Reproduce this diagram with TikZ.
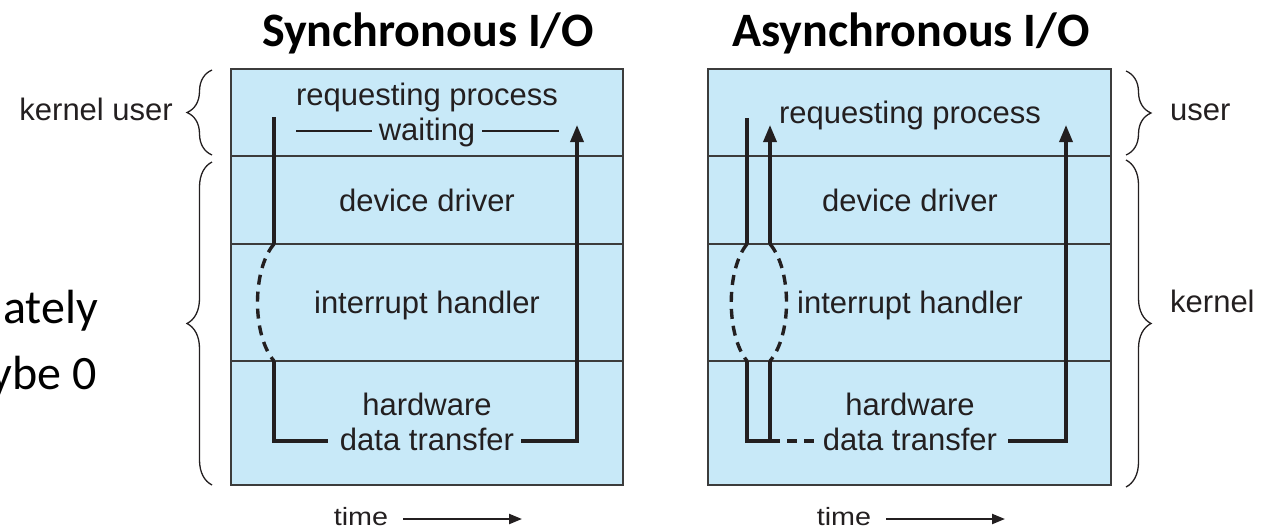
\documentclass[tikz,border=0pt]{standalone}
\usepackage{fontspec}
\setmainfont{Liberation Sans}
\newfontfamily\carlito{Carlito}
\usetikzlibrary{arrows.meta,decorations.pathreplacing}
\definecolor{layerfill}{RGB}{200,233,248}
\definecolor{ink}{RGB}{35,31,32}
\definecolor{framecol}{RGB}{60,60,60}

\begin{document}
\begin{tikzpicture}[x=1pt,y=-1pt,
  lbl/.style={inner sep=0pt,anchor=base,text=ink,font=\fontsize{31}{36}\selectfont},
  sidelbl/.style={lbl,anchor=base east},
  sidelblr/.style={lbl,anchor=base west},
  title/.style={inner sep=0pt,anchor=base,text=black,font=\carlito\bfseries\fontsize{48}{54}\selectfont},
  slide/.style={inner sep=0pt,anchor=base east,text=black,font=\carlito\fontsize{48}{54}\selectfont},
  timelbl/.style={inner sep=0pt,anchor=base,text=ink,font=\fontsize{25}{30}\selectfont},
  flow/.style={draw=ink,line width=3.4pt},
  flowarrow/.style={flow,-{Triangle[length=17pt,width=13pt]}},
  flowdash/.style={flow,dash pattern=on 10pt off 7pt},
  timearrow/.style={draw=ink,line width=2.2pt,-{Triangle[length=13pt,width=10pt]}},
  layer/.style={draw=framecol,line width=1.3pt,fill=layerfill},
  divider/.style={draw=framecol,line width=1.3pt},
  bracestyle/.style={draw=ink,line width=1.3pt,decorate,decoration={brace,amplitude=25pt}}]

\useasboundingbox (0,0) rectangle (1279,531);

% ---------- layer stacks ----------
\path[layer] (231,69) rectangle (623,485);
\draw[divider] (231,156) -- (623,156) (231,244) -- (623,244) (231,361) -- (623,361);
\path[layer] (708,69) rectangle (1111,485);
\draw[divider] (708,156) -- (1111,156) (708,244) -- (1111,244) (708,361) -- (1111,361);

% ---------- titles ----------
\node[title] (syncT) at (428,46) {Synchronous I/O};
\node[title] (asyncT) at (911,46) {Asynchronous I/O};

% ---------- left stack labels ----------
\node[lbl] (sReq) at (427,105) {requesting process};
\node[lbl] (sWait) at (427,140) {waiting};
\node[lbl] (sDrv) at (427,211) {device driver};
\node[lbl] (sInt) at (427,313) {interrupt handler};
\node[lbl] (sHw) at (427,415) {hardware};
\node[lbl] (sDT) at (427,450) {data transfer};

% ---------- right stack labels ----------
\node[lbl] (aReq) at (910,123) {requesting process};
\node[lbl] (aDrv) at (910,211) {device driver};
\node[lbl] (aInt) at (910,313) {interrupt handler};
\node[lbl] (aHw) at (910,415) {hardware};
\node[lbl] (aDT) at (910,450) {data transfer};

% ---------- synchronous path ----------
\coordinate (sTop) at (274,117);
\coordinate (sA) at (274,244);
\coordinate (sB) at (274,361);
\coordinate (sC) at (274,441);
\coordinate (sD) at (328,441);
\coordinate (sE) at (521,441);
\coordinate (sF) at (577,441);
\coordinate (sEnd) at (577,125);
\draw[flow] (sTop) -- (sA);
\draw[flowdash] (sA) .. controls (252,270) and (252,335) .. (sB);
\draw[flow] (sB) -- (sC) -- (sD);
\draw[flowarrow] (sE) -- (sF) -- (sEnd);
% waiting bars
\coordinate (w1) at (296,131);
\coordinate (w2) at (372,131);
\coordinate (w3) at (482,131);
\coordinate (w4) at (559,131);
\draw[draw=ink,line width=2.8pt] (w1) -- (w2) (w3) -- (w4);

% ---------- asynchronous path ----------
\coordinate (aTop) at (747,118);
\coordinate (aA) at (747,244);
\coordinate (aB) at (747,361);
\coordinate (aC) at (747,441);
\coordinate (aRet) at (770,125);
\coordinate (aA2) at (770,244);
\coordinate (aB2) at (770,361);
\coordinate (aC2) at (770,441);
\coordinate (aD) at (815,441);
\coordinate (aE) at (1008,441);
\coordinate (aF) at (1066,441);
\coordinate (aEnd) at (1066,125);
\draw[flow] (aTop) -- (aA);
\draw[flowarrow] (aA2) -- (aRet);
\draw[flowdash] (aA) .. controls (726,270) and (726,335) .. (aB);
\draw[flowdash] (aA2) .. controls (792,270) and (792,335) .. (aB2);
\draw[flow] (aB) -- (aC) -- (aC2) -- (aB2);
\draw[flowdash] (aC2) -- (aD);
\draw[flowarrow] (aE) -- (aF) -- (aEnd);

% ---------- braces ----------
\coordinate (lu1) at (212,155);
\coordinate (lu2) at (212,70);
\coordinate (lk1) at (212,485);
\coordinate (lk2) at (212,162);
\draw[bracestyle] (lu1) -- (lu2);
\draw[bracestyle] (lk1) -- (lk2);
\node[sidelbl] (lUser) at (173,120) {kernel user};

\coordinate (ru1) at (1126,71);
\coordinate (ru2) at (1126,155);
\coordinate (rk1) at (1126,160);
\coordinate (rk2) at (1126,487);
\draw[bracestyle] (ru1) -- (ru2);
\draw[bracestyle] (rk1) -- (rk2);
\node[sidelblr] (rUser) at (1170,120) {user};
\node[sidelblr] (rKern) at (1170,312) {kernel};

% ---------- slide text fragments ----------
\node[slide] (fr1) at (98,323) {ately};
\node[slide] (fr2) at (97,389) {ybe 0};

% ---------- time axes ----------
\node[timelbl] (t1) at (361,525) {\scalebox{1.15}[1]{time}};
\coordinate (t1a) at (403,519);
\coordinate (t1b) at (522,519);
\draw[timearrow] (t1a) -- (t1b);
\node[timelbl] (t2) at (844,525) {\scalebox{1.15}[1]{time}};
\coordinate (t2a) at (886,519);
\coordinate (t2b) at (1005,519);
\draw[timearrow] (t2a) -- (t2b);
\end{tikzpicture}
\end{document}
